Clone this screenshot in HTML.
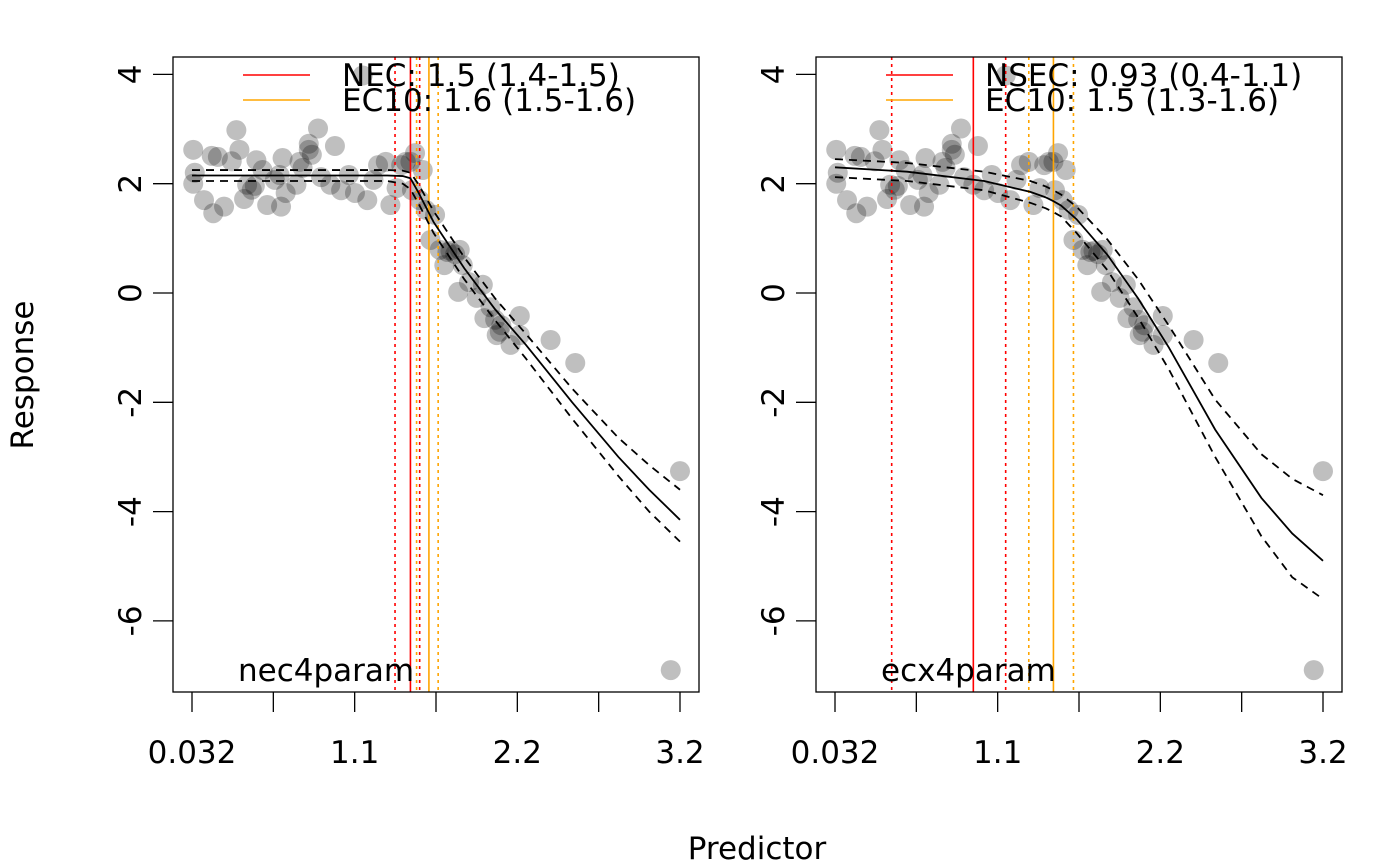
<!DOCTYPE html>
<html><head><meta charset="utf-8"><style>
body{margin:0;background:#fff}
svg{display:block;font-family:"DejaVu Sans","Liberation Sans",sans-serif}
</style></head><body>
<svg id="c" width="1400" height="866" viewBox="0 0 1400 866"></svg>
<script>
const ptsX=[0.04,0.05,0.04,0.11,0.17,0.16,0.2,0.24,0.29,0.32,0.34,0.37,0.39,0.42,0.44,0.45,0.49,0.52,0.57,0.61,0.6,0.64,0.62,0.71,0.73,0.75,0.79,0.79,0.81,0.85,0.87,0.93,0.96,1.0,1.05,1.09,1.14,1.17,1.21,1.24,1.29,1.32,1.36,1.39,1.42,1.45,1.48,1.53,1.51,1.46,1.55,1.58,1.61,1.64,1.67,1.69,1.71,1.74,1.76,1.77,1.79,1.83,1.88,1.92,1.93,1.97,2.0,2.01,2.03,2.04,2.1,2.16,2.16,2.36,2.52,3.14,3.2];
const ptsY=[2.62,2.2,2.0,1.7,1.46,2.51,2.49,1.58,2.41,2.98,2.62,1.72,1.98,1.89,1.96,2.43,2.25,1.61,2.07,1.58,2.16,1.83,2.47,1.98,2.4,2.29,2.73,2.62,2.53,3.01,2.12,1.98,2.69,1.88,2.16,1.83,3.98,1.7,2.07,2.34,2.4,1.61,1.92,2.34,2.4,2.4,2.56,2.25,1.7,1.88,1.52,0.97,1.43,0.79,0.51,0.75,0.77,0.71,0.02,0.79,0.51,0.2,-0.09,0.15,-0.46,-0.26,-0.49,-0.77,-0.71,-0.59,-0.95,-0.42,-0.77,-0.86,-1.28,-6.9,-3.26];
const curveX=[0.032,0.5,1.0,1.3,1.4,1.45,1.5,1.6,1.8,2.0,2.2,2.5,2.8,3.0,3.2];
const necFit=[2.15,2.15,2.15,2.15,2.14,2.1,1.85,1.3,0.45,-0.3,-0.95,-2.0,-3.0,-3.6,-4.15];
const necUp=[2.25,2.25,2.25,2.25,2.24,2.2,2.0,1.5,0.65,-0.1,-0.75,-1.75,-2.65,-3.15,-3.6];
const necLo=[2.05,2.05,2.05,2.05,2.0,1.9,1.65,1.1,0.25,-0.5,-1.2,-2.3,-3.35,-4.0,-4.55];
const ecxFit=[2.3,2.22,2.05,1.85,1.75,1.68,1.6,1.35,0.7,-0.1,-1.0,-2.5,-3.75,-4.4,-4.9];
const ecxUp=[2.45,2.38,2.22,2.05,1.95,1.88,1.8,1.58,0.98,0.25,-0.6,-1.95,-2.95,-3.4,-3.7];
const ecxLo=[2.12,2.05,1.88,1.65,1.55,1.48,1.4,1.1,0.42,-0.45,-1.4,-3.0,-4.45,-5.2,-5.6];
const yTicks=[4,2,0,-2,-4,-6];
const xTickVals=[0.032,0.56,1.088,1.616,2.144,2.672,3.2];
const xTickLabels=["0.032","","1.1","","2.2","","3.2"];
const panels=[
 {name:"nec4param",x0:173,fit:necFit,up:necUp,lo:necLo,
  leg:["NEC: 1.5 (1.4-1.5)","EC10: 1.6 (1.5-1.6)"],
  red:[1.45,1.35,1.51],orange:[1.57,1.49,1.63]},
 {name:"ecx4param",x0:816,fit:ecxFit,up:ecxUp,lo:ecxLo,
  leg:["NSEC: 0.93 (0.4-1.1)","EC10: 1.5 (1.3-1.6)"],
  red:[0.93,0.40,1.14],orange:[1.45,1.29,1.58]}
];
const NS="http://www.w3.org/2000/svg";
const svg=document.getElementById('c');
function mk(t,a,p){const e=document.createElementNS(NS,t);for(const k in a)e.setAttribute(k,a[k]);(p||svg).appendChild(e);return e;}
const yS=v=>293-v*54.65;
const defs=mk('defs',{});
panels.forEach((P,pi)=>{
 const cp=mk('clipPath',{id:'clip'+pi},defs);
 mk('rect',{x:P.x0,y:57,width:526,height:635},cp);
 const g=mk('g',{});
 
 
 const pg=mk('g',{'clip-path':'url(#clip'+pi+')'},g);
 const xS=v=>P.x0+19+(v-0.032)/3.168*488;
 ptsX.forEach((x,i)=>{const c=mk('circle',{cx:xS(x),cy:yS(ptsY[i]),r:10,fill:'rgba(0,0,0,0.25)'},pg);
  
  });
 const vl=(v,col,dash,nm)=>{const l=mk('line',{x1:xS(v),x2:xS(v),y1:57,y2:692,stroke:col,'stroke-width':1.6},g);
  if(dash)l.setAttribute('stroke-dasharray','3,4');
  
  };
 vl(P.red[0],'#ff0000',false,'threshold-line');vl(P.red[1],'#ff0000',true,'threshold-ci-low');vl(P.red[2],'#ff0000',true,'threshold-ci-high');
 vl(P.orange[0],'#ffa500',false,'ec10-line');vl(P.orange[1],'#ffa500',true,'ec10-ci-low');vl(P.orange[2],'#ffa500',true,'ec10-ci-high');
 const cv=(arr,dash,nm)=>{const p=mk('polyline',{points:curveX.map((x,i)=>xS(x)+','+yS(arr[i])).join(' '),fill:'none',stroke:'#000','stroke-width':1.8},g);
  if(dash)p.setAttribute('stroke-dasharray','8,6');
  
  };
 cv(P.fit,false,'fitted-curve');cv(P.up,true,'upper-ci');cv(P.lo,true,'lower-ci');
 const b=mk('rect',{x:P.x0,y:57,width:526,height:635,fill:'none',stroke:'#000','stroke-width':1.3},g);
 
 
 yTicks.forEach(v=>{mk('line',{x1:P.x0-20,x2:P.x0,y1:yS(v),y2:yS(v),stroke:'#000','stroke-width':1.3},g);
  const t=mk('text',{x:P.x0-32,y:yS(v),'font-size':31,'text-anchor':'middle',transform:`rotate(-90 ${P.x0-32} ${yS(v)})`},g);
  t.textContent=v;
  
  });
 xTickVals.forEach((v,i)=>{mk('line',{x1:xS(v),x2:xS(v),y1:692,y2:712,stroke:'#000','stroke-width':1.3},g);
  if(xTickLabels[i]){const t=mk('text',{x:xS(v),y:763,'font-size':31,'text-anchor':'middle'},g);
  t.textContent=xTickLabels[i];
  
  }});
 [['#ff0000',75],['#ffa500',100]].forEach((c,i)=>{mk('line',{x1:P.x0+70,x2:P.x0+137,y1:c[1],y2:c[1],stroke:c[0],'stroke-width':1.6},g);
  const t=mk('text',{x:P.x0+169,y:c[1]+11,'font-size':31},g);
  t.textContent=P.leg[i];
  
  });
 const n=mk('text',{x:P.x0+65,y:681,'font-size':31},g);
 n.textContent=P.name;
 
 
});
const yt=mk('text',{x:33,y:375,'font-size':31,'text-anchor':'middle',transform:'rotate(-90 33 375)'});
yt.textContent='Response';


const xt=mk('text',{x:757,y:859,'font-size':31,'text-anchor':'middle'});
xt.textContent='Predictor';


</script>
</body></html>
